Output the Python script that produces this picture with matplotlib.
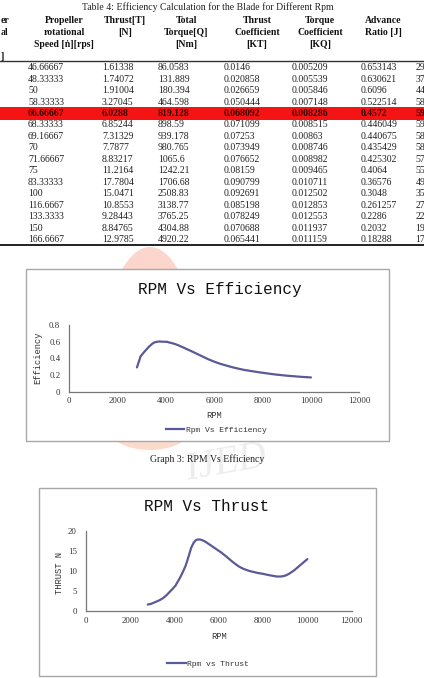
import numpy as np
import matplotlib.pyplot as plt
from matplotlib.patches import Rectangle, Polygon, PathPatch
from matplotlib.path import Path
from matplotlib.lines import Line2D

# table data (read from the page)
rps = ["46.66667", "48.33333", "50", "58.33333", "66.66667", "68.33333", "69.16667", "70",
       "71.66667", "75", "83.33333", "100", "116.6667", "133.3333", "150", "166.6667"]
thrust_txt = ["1.61338", "1.74072", "1.91004", "3.27045", "6.0288", "6.85244", "7.31329", "7.7877",
              "8.83217", "11.2164", "17.7804", "15.0471", "10.8553", "9.28443", "8.84765", "12.9785"]
torque = ["86.0583", "131.889", "180.394", "464.598", "819.128", "898.59", "939.178", "980.765",
          "1065.6", "1242.21", "1706.68", "2508.83", "3138.77", "3765.25", "4304.88", "4920.22"]
kt = ["0.0146", "0.020858", "0.026659", "0.050444", "0.068092", "0.071099", "0.07253", "0.073949",
      "0.076652", "0.08159", "0.090799", "0.092691", "0.085198", "0.078249", "0.070688", "0.065441"]
kq = ["0.005209", "0.005539", "0.005846", "0.007148", "0.008286", "0.008515", "0.00863", "0.008746",
      "0.008982", "0.009465", "0.010711", "0.012502", "0.012853", "0.012553", "0.011937", "0.011159"]
adv = ["0.653143", "0.630621", "0.6096", "0.522514", "0.4572", "0.446049", "0.440675", "0.435429",
       "0.425302", "0.4064", "0.36576", "0.3048", "0.261257", "0.2286", "0.2032", "0.18288"]
# only the first two digits of the efficiency column are inside the page crop
eff_txt = ["29", "37", "44", "58", "59", "59", "58", "58",
           "57", "55", "49", "35", "27", "22", "19", "17"]

# chart data
rpm = [2800, 2900, 3000, 3500, 4000, 4100, 4150, 4200, 4300, 4500, 5000, 6000, 7000, 8000, 9000, 10000]
efficiency = [0.291, 0.378, 0.442, 0.587, 0.598, 0.593, 0.589, 0.586,
              0.578, 0.558, 0.493, 0.360, 0.276, 0.227, 0.192, 0.171]
thrust = [1.61338, 1.74072, 1.91004, 3.27045, 6.0288, 6.85244, 7.31329, 7.7877,
          8.83217, 11.2164, 17.7804, 15.0471, 10.8553, 9.28443, 8.84765, 12.9785]

W, H = 424, 678
fig = plt.figure(figsize=(W / 100, H / 100), dpi=100)

def fx(x):
    return x / W

def fy(y):
    return 1 - y / H

serif = "Liberation Serif"
mono = "Liberation Mono"
line_col = "#5a5a96"

# watermark pieces peeking out between the table and the chart boxes
t = np.linspace(0, np.pi, 60)
cap_top = [(fx(150 + 45 * np.cos(a)), fy(352 - 105 * np.sin(a))) for a in t]
cap_top = [(px, max(py, fy(269))) for px, py in cap_top]
fig.add_artist(Polygon(cap_top, closed=True, transform=fig.transFigure,
                       facecolor="#fcd6cc", edgecolor="none", zorder=0))
cap_bot = [(fx(150 + 40 * np.cos(a)), fy(430 + 20 * np.sin(a))) for a in t]
cap_bot = [(px, min(py, fy(441.5))) for px, py in cap_bot]
fig.add_artist(Polygon(cap_bot, closed=True, transform=fig.transFigure,
                       facecolor="#fbdccc", edgecolor="none", zorder=0))
fig.text(fx(226), fy(464), "IJED", fontsize=28, color="#ededed", style="italic",
         family=serif, ha="center", va="center", rotation=10, zorder=0)

# ---- table ----
fig.text(fx(208), fy(7), "Table 4: Efficiency Calculation for the Blade for Different Rpm",
         family=serif, fontsize=7, ha="center", va="center", color="#222")

headers = [
    (64, ["Propeller", "rotational", "Speed [\u1e45][rps]"]),
    (125, ["Thrust[T]", "[N]"]),
    (186, ["Total", "Torque[Q]", "[Nm]"]),
    (257, ["Thrust", "Coefficient", "[KT]"]),
    (320, ["Torque", "Coefficient", "[KQ]"]),
    (383, ["Advance", "Ratio [J]"]),
]
head_y = [20.7, 32.7, 44.3, 56.5]
for cx, lines in headers:
    for k, s in enumerate(lines):
        fig.text(fx(cx), fy(head_y[k]), s, family=serif, fontsize=7, weight="bold",
                 ha="center", va="center", color="#111")
# first column header is cut by the page edge: only its line ends show
for k, s in [(0, "er"), (1, "al"), (3, "]")]:
    fig.text(fx(0.5), fy(head_y[k]), s, family=serif, fontsize=7, weight="bold",
             ha="left", va="center", color="#111")

fig.add_artist(Line2D([0, 1], [fy(60.5), fy(60.5)], color="#333", lw=1.0))
fig.add_artist(Line2D([0, 1], [fy(245), fy(245)], color="#111", lw=1.3))

# highlighted row
fig.add_artist(Rectangle((0, fy(119.5)), 1, 12 / H, transform=fig.transFigure,
                         facecolor="#f41414", edgecolor="none", zorder=0))

cols_x = [28, 102, 158, 224, 292, 361, 415.5]
columns = [rps, thrust_txt, torque, kt, kq, adv, eff_txt]
for i in range(len(rps)):
    y = 67.7 + 11.45 * i
    hl = (i == 4)
    for x, col in zip(cols_x, columns):
        fig.text(fx(x), fy(y), col[i], family=serif, fontsize=7, ha="left", va="center",
                 color="#3a0000" if hl else "#222", weight="bold" if hl else "normal")

# ---- charts ----
def smooth_curve(ax, xs, ys):
    n = len(xs)
    verts = [(xs[0], ys[0])]
    codes = [Path.MOVETO]
    for i in range(n - 1):
        x0, y0 = xs[max(i - 1, 0)], ys[max(i - 1, 0)]
        x1, y1 = xs[i], ys[i]
        x2, y2 = xs[i + 1], ys[i + 1]
        x3, y3 = xs[min(i + 2, n - 1)], ys[min(i + 2, n - 1)]
        c1 = (x1 + (x2 - x0) / 6, y1 + (y2 - y0) / 6)
        c2 = (x2 - (x3 - x1) / 6, y2 - (y3 - y1) / 6)
        verts += [c1, c2, (x2, y2)]
        codes += [Path.CURVE4] * 3
    ax.add_patch(PathPatch(Path(verts, codes), fill=False, edgecolor=line_col, lw=1.6,
                           capstyle="round", joinstyle="round"))


def chart(box, axpos, title, title_xy, ylim, yticks, ylabel, ylab_xy, xlab_y,
          leg_label, leg_xy, xs, ys, ypad):
    l, t, r, b = box
    fig.add_artist(Rectangle((fx(l), fy(b)), (r - l) / W, (b - t) / H,
                             transform=fig.transFigure, facecolor="white",
                             edgecolor="#a8a8a8", lw=1.0, zorder=1))
    fig.text(fx(title_xy[0]), fy(title_xy[1]), title, family=mono, fontsize=11.5,
             ha="center", va="center", color="#111", zorder=3)
    al, at, ar, ab = axpos
    ax = fig.add_axes([fx(al), fy(ab), (ar - al) / W, (ab - at) / H], zorder=2)
    ax.patch.set_alpha(0)
    smooth_curve(ax, xs, ys)
    ax.set_xlim(0, 12000)
    ax.set_ylim(*ylim)
    ax.set_xticks(range(0, 12001, 2000))
    ax.set_yticks(yticks)
    ax.set_yticklabels([("%g" % v) for v in yticks])
    for s in ["top", "right"]:
        ax.spines[s].set_visible(False)
    for s in ["left", "bottom"]:
        ax.spines[s].set_color("#777")
        ax.spines[s].set_linewidth(0.9)
    ax.tick_params(length=0, labelsize=6.3, colors="#333")
    ax.tick_params(axis="x", pad=4)
    ax.tick_params(axis="y", pad=ypad)
    for lab in ax.get_xticklabels() + ax.get_yticklabels():
        lab.set_family(serif)
    ax.set_xlabel("RPM", family=mono, fontsize=6.3, color="#333")
    ax.xaxis.set_label_coords(0.5, (ab - xlab_y) / (ab - at))
    ax.xaxis.label.set_va("center")
    ax.set_ylabel(ylabel, family=mono, fontsize=6.3, color="#333")
    ax.yaxis.set_label_coords((ylab_xy[0] - al) / (ar - al), (ab - ylab_xy[1]) / (ab - at))
    ax.yaxis.label.set_va("center")
    h = Line2D([], [], color=line_col, lw=1.6)
    ax.legend([h], [leg_label], loc="center", bbox_to_anchor=(fx(leg_xy[0]), fy(leg_xy[1])),
              bbox_transform=fig.transFigure, frameon=False, handlelength=2.3,
              handletextpad=0.2, prop={"family": mono, "size": 5.8}, labelcolor="#333")
    return ax


chart((26, 269, 389, 441), (69.3, 325, 359.3, 391.7), "RPM Vs Efficiency", (219.5, 290),
      (0, 0.8), [0, 0.2, 0.4, 0.6, 0.8], "Efficiency", (38, 358), 416,
      "Rpm Vs Efficiency", (216, 430), rpm, efficiency, 6.5)

fig.text(fx(207), fy(459), "Graph 3: RPM Vs Efficiency", family=serif, fontsize=7,
         ha="center", va="center", color="#222", zorder=3)

chart((39.3, 487.7, 375.7, 676), (85.7, 531, 351.7, 611), "RPM Vs Thrust", (206.5, 506.7),
      (0, 20), [0, 5, 10, 15, 20], "THRUST N", (59, 573), 636.7,
      "Rpm vs Thrust", (208, 663.7), rpm, thrust, 6.3)

fig.savefig("out.png", dpi=100)
